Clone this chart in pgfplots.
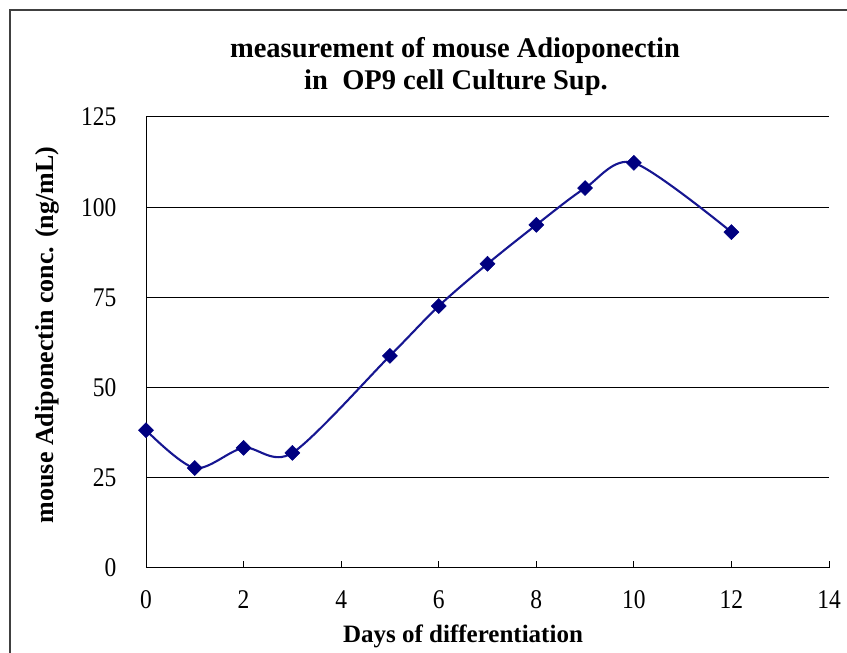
\documentclass[border=0pt]{standalone}
\usepackage{fontspec}
\setmainfont{Liberation Serif}
\newfontfamily\tallfont[FakeStretch=0.87]{Liberation Serif}
\newfontfamily\titlebf{Liberation Serif Bold}
\usepackage{pgfplots}
\pgfplotsset{compat=1.18}
\definecolor{navymark}{RGB}{0,0,128}
\definecolor{navyline}{RGB}{22,22,145}
\begin{document}
\begin{tikzpicture}[x=1pt,y=1pt]
  \path[use as bounding box] (0,0) rectangle (847,653);
  \begin{scope}
    \clip (0,0) rectangle (847,653);
    \draw[line width=1.5pt, black!75] (10,-20) -- (10,643) -- (870,643);
  \end{scope}
  \begin{axis}[
      at={(146pt,85pt)}, anchor=origin,
      scale only axis, width=683pt, height=451pt,
      xmin=0, xmax=14, ymin=0, ymax=125,
      xtick={0,2,...,14}, ytick={0,25,...,125},
      axis lines*=left,
      axis line style={line width=1pt},
      ymajorgrids, major grid style={black, line width=1pt},
      tick align=inside,
      x tick style={black, line width=1pt}, major tick length=7pt,
      y tick style={draw=none},
      xticklabel style={font=\tallfont\fontsize{27}{30}\selectfont, yshift=-19pt},
      yticklabel style={font=\tallfont\fontsize{27}{30}\selectfont, xshift=-26pt},
      /pgf/number format/assume math mode=true,
      clip=false,
    ]
    \addplot[color=navyline, line width=2.1pt, smooth, tension=0.5,
             mark=square*, mark size=5.3pt,
             mark options={rotate=45, fill=navymark, draw=navymark, line width=0.5pt}]
      coordinates {
        (0,38.2) (1,27.7) (2,33.3) (3,31.9) (5,58.8) (6,72.6)
        (7,84.3) (8,95.1) (9,105.3) (10,112.3) (12,93.1)
      };
  \end{axis}
  \node[font=\titlebf\fontsize{28.5}{32}\selectfont, anchor=base] at (455,595)
    {measurement of mouse Adioponectin};
  \node[font=\titlebf\fontsize{28.5}{32}\selectfont, anchor=base] at (456,563)
    {in\ \ OP9 cell Culture Sup.};
  \node[font=\titlebf\fontsize{25}{28}\selectfont] at (463,17) {Days of differentiation};
  \node[font=\titlebf\fontsize{26}{29}\selectfont, rotate=90] at (47,318) {mouse Adiponectin conc. (ng/mL)};
\end{tikzpicture}
\end{document}
